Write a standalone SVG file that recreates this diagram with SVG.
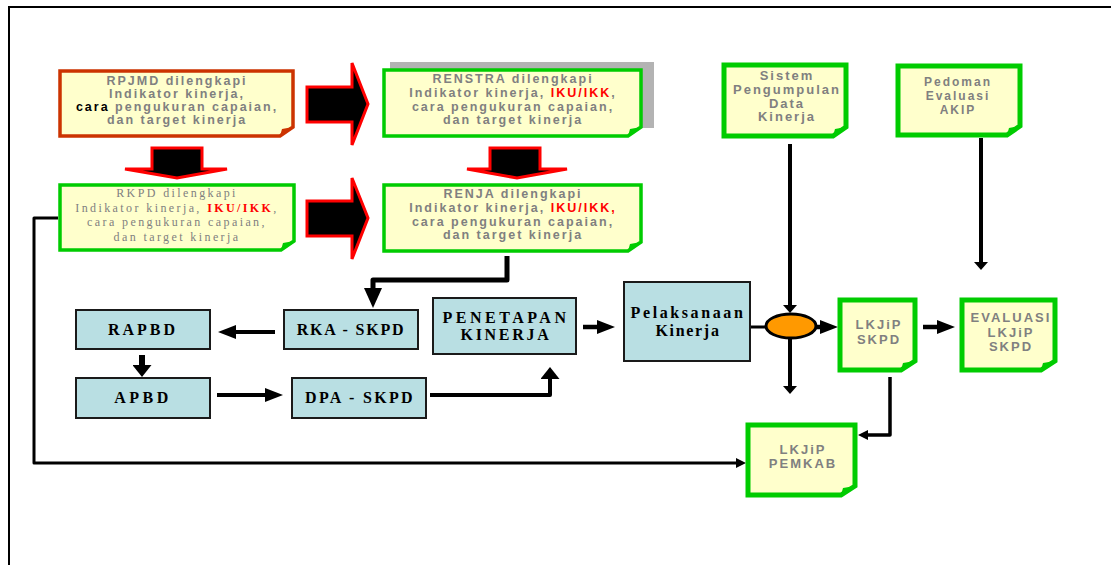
<svg xmlns="http://www.w3.org/2000/svg" width="1111" height="565" viewBox="0 0 1111 565">
<style>
.note{fill:#ffffcc}
.gb{stroke:#00cc00;stroke-width:3.5}
.gbt{stroke:#00cc00;stroke-width:5}
.ob{stroke:#cc3300;stroke-width:3.5}
.fg{fill:#00cc00}
.fo{fill:#cc3300}
.teal{fill:#b9dfe3;stroke:#1a1a1a;stroke-width:2}
.sans{font-family:"Liberation Sans",Arial,sans-serif;font-weight:bold;fill:#808080;font-size:12.5px;letter-spacing:2px;text-anchor:middle}
.sans13{font-family:"Liberation Sans",Arial,sans-serif;font-weight:bold;fill:#808080;font-size:13px;letter-spacing:2px;text-anchor:middle}
.sans12{font-family:"Liberation Sans",Arial,sans-serif;font-weight:bold;fill:#808080;font-size:12px;letter-spacing:2px;text-anchor:middle}
.serifg{font-family:"Liberation Serif","Times New Roman",serif;fill:#808080;font-size:12px;letter-spacing:2.4px;text-anchor:middle}
.lab{font-family:"Liberation Serif","Times New Roman",serif;font-weight:bold;fill:#000;font-size:16px;text-anchor:middle}
.red{fill:#ff0000;font-weight:bold}
.blk{fill:#000}
.block{fill:#000;stroke:#ff0000;stroke-width:3}
.conn{fill:none;stroke:#000;stroke-linejoin:round}
.mk{fill:#000}
</style>
<defs>
<marker id="mA" viewBox="0 0 18 14" refX="0" refY="7" markerWidth="18" markerHeight="14" markerUnits="userSpaceOnUse" orient="auto"><path class="mk" d="M0,0 L18,7 L0,14 Z"/></marker>
<marker id="mB" viewBox="0 0 20 18" refX="0" refY="9" markerWidth="20" markerHeight="18" markerUnits="userSpaceOnUse" orient="auto"><path class="mk" d="M0,0 L20,9 L0,18 Z"/></marker>
<marker id="mC" viewBox="0 0 12 19" refX="0" refY="9.5" markerWidth="12" markerHeight="19" markerUnits="userSpaceOnUse" orient="auto"><path class="mk" d="M0,0 L12,9.5 L0,19 Z"/></marker>
<marker id="mD" viewBox="0 0 8 14" refX="0" refY="7" markerWidth="8" markerHeight="14" markerUnits="userSpaceOnUse" orient="auto"><path class="mk" d="M0,0 L8,7 L0,14 Z"/></marker>
<marker id="mE" viewBox="0 0 10 10" refX="0" refY="5" markerWidth="10" markerHeight="10" markerUnits="userSpaceOnUse" orient="auto"><path class="mk" d="M0,0 L10,5 L0,10 Z"/></marker>
</defs>
<rect x="0" y="0" width="1111" height="565" fill="#fff"/>
<path d="M9,565 V7 H1111" fill="none" stroke="#000" stroke-width="2"/>

<g id="connectors">
<polygon class="block" points="307,87 352,87 352,63 368,104 352,145 352,122 307,122"/>
<polygon class="block" points="307,201 352,201 352,178 368,218 352,259 352,236 307,236"/>
<polygon class="block" points="152,148 202,148 202,169 227,169 177,178 125,169 152,169"/>
<polygon class="block" points="490,148 540,148 540,169 567,169 517,178 467,169 490,169"/>
<path class="conn" stroke-width="5" d="M507,256 V280 H373 V288" marker-end="url(#mB)"/>
<path class="conn" stroke-width="4" d="M275,332 H236" marker-end="url(#mA)"/>
<path class="conn" stroke-width="6" d="M142,355 V365" marker-end="url(#mC)"/>
<path class="conn" stroke-width="4" d="M217,395 H265" marker-end="url(#mA)"/>
<path class="conn" stroke-width="4" d="M430,395 H550 V379" marker-end="url(#mC)"/>
<path class="conn" stroke-width="4.5" d="M583,327 H597" marker-end="url(#mA)"/>
<path class="conn" stroke-width="3" d="M750,327 H766"/>
<path class="conn" stroke-width="4" d="M790,144 V305" marker-end="url(#mD)"/>
<path class="conn" stroke-width="4" d="M790,339 V386" marker-end="url(#mD)"/>
<path class="conn" stroke-width="4.5" d="M816,327 H820" marker-end="url(#mA)"/>
<path class="conn" stroke-width="4.5" d="M923,327 H937" marker-end="url(#mA)"/>
<path class="conn" stroke-width="3.5" d="M890,377 V435 H868" marker-end="url(#mE)"/>
<path class="conn" stroke-width="3" d="M58,218 H34 V463 H736" marker-end="url(#mE)"/>
<path class="conn" stroke-width="4" d="M981,138 V262" marker-end="url(#mD)"/>
</g>

<g id="rpjmd">
<path class="note ob" d="M60,71 H293 V127 L280,136 H60 Z"/>
<path class="fo" d="M280,136 L282,129 L293,127 Z"/>
<text class="sans" x="177" y="85">RPJMD dilengkapi</text>
<text class="sans" x="177" y="98">Indikator kinerja,</text>
<text class="sans" x="177" y="111"><tspan class="blk">cara</tspan> pengukuran capaian,</text>
<text class="sans" x="177" y="124">dan target kinerja</text>
</g>

<g id="rkpd">
<path class="note gb" d="M60,185 H294 V241 L281,250 H60 Z"/>
<path class="fg" d="M281,250 L283,243 L294,241 Z"/>
<text class="serifg" x="177" y="197">RKPD dilengkapi</text>
<text class="serifg" x="177" y="212">Indikator kinerja, <tspan class="red">IKU/IKK</tspan>,</text>
<text class="serifg" x="177" y="226">cara pengukuran  capaian,</text>
<text class="serifg" x="177" y="241">dan target kinerja</text>
</g>

<g id="renstra">
<rect x="390" y="62" width="264" height="66" fill="#b3b3b3"/>
<path class="note gb" d="M384,70 H641 V127 L628,136 H384 Z"/>
<path class="fg" d="M628,136 L630,129 L641,127 Z"/>
<text class="sans" x="513" y="83">RENSTRA dilengkapi</text>
<text class="sans" x="513" y="97">Indikator kinerja, <tspan class="red">IKU/IKK</tspan>,</text>
<text class="sans" x="513" y="111">cara pengukuran capaian,</text>
<text class="sans" x="513" y="124">dan target kinerja</text>
</g>

<g id="renja">
<path class="note gb" d="M384,185 H641 V242 L628,251 H384 Z"/>
<path class="fg" d="M628,251 L630,244 L641,242 Z"/>
<text class="sans" x="513" y="198">RENJA dilengkapi</text>
<text class="sans" x="513" y="212">Indikator kinerja, <tspan class="red">IKU/IKK,</tspan></text>
<text class="sans" x="513" y="226">cara pengukuran capaian,</text>
<text class="sans" x="513" y="239">dan target kinerja</text>
</g>

<g id="sistem">
<path class="note gbt" d="M724,65 H846 V127 L833,136 H724 Z"/>
<path class="fg" d="M833,136 L835,129 L846,127 Z"/>
<text class="sans13" x="787" y="80">Sistem</text>
<text class="sans13" x="787" y="94">Pengumpulan</text>
<text class="sans13" x="787" y="108">Data</text>
<text class="sans13" x="787" y="121">Kinerja</text>
</g>

<g id="pedoman">
<path class="note gbt" d="M898,66 H1020 V126 L1007,135 H898 Z" stroke-width="6"/>
<path class="fg" d="M1007,135 L1009,128 L1020,126 Z"/>
<text class="sans12" x="958" y="86">Pedoman</text>
<text class="sans12" x="958" y="100">Evaluasi</text>
<text class="sans12" x="958" y="114">AKIP</text>
</g>

<g id="rapbd">
<rect class="teal" x="76" y="310" width="134" height="39"/>
<text class="lab" x="143" y="335" letter-spacing="3">RAPBD</text>
</g>
<g id="rka">
<rect class="teal" x="284" y="310" width="134" height="39"/>
<text class="lab" x="351" y="335" letter-spacing="1.8">RKA - SKPD</text>
</g>
<g id="apbd">
<rect class="teal" x="76" y="378" width="134" height="40"/>
<text class="lab" x="143" y="403" letter-spacing="3.5">APBD</text>
</g>
<g id="dpa">
<rect class="teal" x="292" y="378" width="134" height="40"/>
<text class="lab" x="360" y="403" letter-spacing="2.3">DPA - SKPD</text>
</g>
<g id="penetapan">
<rect class="teal" x="433" y="298" width="143" height="56"/>
<text class="lab" x="506" y="323" letter-spacing="3.5">PENETAPAN</text>
<text class="lab" x="506" y="340" letter-spacing="2.7">KINERJA</text>
</g>
<g id="pelaksanaan">
<rect class="teal" x="624" y="282" width="126" height="79"/>
<text class="lab" x="688" y="318" letter-spacing="2.6">Pelaksanaan</text>
<text class="lab" x="688" y="336" letter-spacing="1.7">Kinerja</text>
</g>
<g id="junction">
<ellipse cx="791" cy="326" rx="25" ry="12" fill="#ff9900" stroke="#000" stroke-width="3"/>
</g>
<g id="lkjip-skpd">
<path class="note gbt" d="M840,300 H915 V361 L901,370 H840 Z"/>
<path class="fg" d="M901,370 L903,363 L915,361 Z"/>
<text class="sans13" x="879" y="329">LKJiP</text>
<text class="sans13" x="879" y="344">SKPD</text>
</g>
<g id="evaluasi">
<path class="note gbt" d="M962,300 H1055 V361 L1041,370 H962 Z"/>
<path class="fg" d="M1041,370 L1043,363 L1055,361 Z"/>
<text class="sans13" x="1011" y="322">EVALUASI</text>
<text class="sans13" x="1011" y="337">LKJiP</text>
<text class="sans13" x="1011" y="351">SKPD</text>
</g>
<g id="lkjip-pemkab">
<path class="note gbt" d="M748,425 H855 V486 L841,495 H748 Z"/>
<path class="fg" d="M841,495 L843,488 L855,486 Z"/>
<text class="sans13" x="803" y="454">LKJiP</text>
<text class="sans13" x="803" y="468">PEMKAB</text>
</g>
</svg>
